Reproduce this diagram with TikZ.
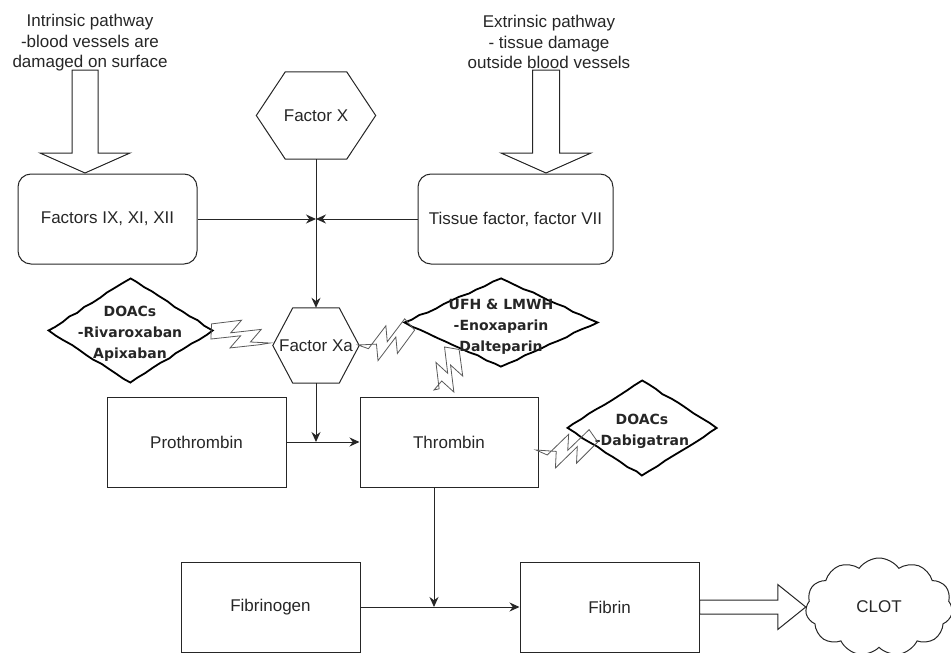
\documentclass[tikz,border=0pt]{standalone}
\usepackage{fontspec}
\setmainfont{Liberation Sans}
\newfontfamily\handfont{DejaVu Sans}
\usetikzlibrary{calc,arrows.meta,shapes.geometric,shapes.symbols,decorations.pathmorphing}
\newcommand\zbolt[2]{%
  \draw[bolt] ($(#1)!0!(#2)!1pt!270:(#2)$)
    -- ($(#1)!0.40!(#2)!15pt!90:(#2)$)
    -- ($(#1)!0.33!(#2)!1pt!270:(#2)$)
    -- ($(#1)!0.74!(#2)!15pt!90:(#2)$)
    -- ($(#1)!0.67!(#2)!1pt!270:(#2)$)
    -- ($(#1)!1!(#2)!7pt!90:(#2)$)
    -- ($(#1)!0.82!(#2)!0.5pt!90:(#2)$)
    -- ($(#1)!0.42!(#2)!15pt!270:(#2)$)
    -- ($(#1)!0.49!(#2)!0.5pt!90:(#2)$)
    -- ($(#1)!0.09!(#2)!15pt!270:(#2)$)
    -- cycle;}
\begin{document}
\begin{tikzpicture}[x=1pt,y=-1pt,
  txt/.style={font=\fontsize{17}{20.5}\selectfont, align=center, inner sep=0pt, text=black!85},
  box/.style={draw=black!85, line width=1pt, minimum width=179pt, minimum height=90pt, inner sep=0pt,
              font=\fontsize{17}{20.5}\selectfont, text=black!85},
  rbox/.style={box, rounded corners=13pt},
  hexlab/.style={inner sep=0pt, font=\fontsize{17}{20.5}\selectfont, text=black!85},
  hexline/.style={draw=black!85, line width=1pt},
  flow/.style={draw=black!85, line width=1pt, -{Stealth[length=10pt,width=9pt]}},
  hollow/.style={draw=black!85, line width=1pt, fill=white, line join=miter},
  drug/.style={shape=diamond, draw=black, line width=1.8pt, inner sep=0pt,
               decorate, decoration={random steps, segment length=9pt, amplitude=0.7pt}},
  drugtxt/.style={font=\handfont\bfseries\fontsize{14}{21}\selectfont, align=center, inner sep=0pt, text=black!85},
  bolt/.style={draw=black!65, line width=0.8pt, line join=miter}
]
\useasboundingbox (0,0) rectangle (951,653);

% pathway texts
\node[txt] (intr) at (90,43) {Intrinsic pathway\\-blood vessels are\\damaged on surface};
\node[txt] (extr) at (549,42) {Extrinsic pathway\\- tissue damage\\outside blood vessels};

% boxes
\node[rbox, minimum width=179pt] (ix) at (107.5,219) {Factors IX, XI, XII};
\node[rbox, minimum width=195pt] (tf) at (515.5,219) {Tissue factor, factor VII};

% hollow arrows from pathways
\coordinate (ia) at (85,173);
\coordinate (ea) at (546,173);
\draw[hollow] ($(ia)+(-13,-103)$) -- ($(ia)+(-13,-20)$) -- ($(ia)+(-45,-20)$) -- (ia)
  -- ($(ia)+(45,-20)$) -- ($(ia)+(13,-20)$) -- ($(ia)+(13,-103)$) -- cycle;
\draw[hollow] ($(ea)+(-13.5,-103)$) -- ($(ea)+(-13.5,-20)$) -- ($(ea)+(-45,-20)$) -- (ea)
  -- ($(ea)+(45,-20)$) -- ($(ea)+(13.5,-20)$) -- ($(ea)+(13.5,-103)$) -- cycle;

% Factor X hexagon
\node[hexlab, minimum width=119pt, minimum height=87pt] (fx) at (316,115.5) {Factor X};
\draw[hexline] (fx.west) -- ([xshift=29pt]fx.north west) -- ([xshift=-29pt]fx.north east)
  -- (fx.east) -- ([xshift=-29pt]fx.south east) -- ([xshift=29pt]fx.south west) -- cycle;

% Factor Xa hexagon
\node[hexlab, minimum width=86pt, minimum height=75pt] (fxa) at (316,345.5) {Factor Xa};
\draw[hexline] (fxa.west) -- ([xshift=20pt]fxa.north west) -- ([xshift=-20pt]fxa.north east)
  -- (fxa.east) -- ([xshift=-20pt]fxa.south east) -- ([xshift=20pt]fxa.south west) -- cycle;

% lower boxes
\node[box, minimum width=179pt] (pt) at (196.5,442) {Prothrombin};
\node[box, minimum width=178pt] (th) at (449,442) {Thrombin};
\node[box, minimum width=179pt] (fg) at (270.5,607) {Fibrinogen};
\node[box, minimum width=179pt] (fb) at (609.5,607) {Fibrin};

% cloud
\node[cloud, cloud puffs=11, cloud puff arc=110, aspect=1.5, draw=black!85, line width=1pt,
      minimum width=147pt, minimum height=98pt, inner sep=0pt,
      font=\fontsize{17}{20.5}\selectfont, text=black!85] (clot) at (879,607) {CLOT};

% connectors
\coordinate (j1) at (316,219);
\draw[flow] (fx.south) -- (fxa.north);
\draw[flow] (ix.east) -- (j1);
\draw[flow] (tf.west) -- (j1);
\coordinate (j2) at (316,442);
\draw[flow] (pt.east) -- (th.west);
\draw[flow] (fxa.south) -- (j2);
\coordinate (j3) at (434,607);
\draw[flow] (fg.east) -- (fb.west);
\draw[flow] (th.south -| j3) -- (j3);

% hollow arrow to clot
\draw[hollow] ($(fb.east)+(0,-7)$) -- ($(clot.west)+(-28,-7)$) -- ($(clot.west)+(-28,-22.5)$)
  -- (clot.west) -- ($(clot.west)+(-28,22.5)$) -- ($(clot.west)+(-28,7)$) -- ($(fb.east)+(0,7)$) -- cycle;

% drug diamonds
\node[drug, minimum width=165pt, minimum height=105pt] (d1) at (130.5,330.5) {};
\node[drugtxt] (d1t) at (130,334) {DOACs\\-Rivaroxaban\\Apixaban};
\node[drug, minimum width=194pt, minimum height=89pt] (d2) at (501,322.5) {};
\node[drugtxt] (d2t) at (501,327) {UFH \& LMWH\\-Enoxaparin\\Dalteparin};
\node[drug, minimum width=150pt, minimum height=96pt] (d3) at (642,428) {};
\node[drugtxt] (d3t) at (642,431) {DOACs\\-Dabigatran};

% lightning bolts
\coordinate (b1s) at (212,323); \coordinate (b1e) at (270,350);
\coordinate (b2s) at (415,331); \coordinate (b2e) at (358,352);
\coordinate (b3s) at (460,350); \coordinate (b3e) at (434,397);
\coordinate (b4s) at (598,443); \coordinate (b4e) at (536,457);
\zbolt{b1s}{b1e}
\zbolt{b2s}{b2e}
\zbolt{b3s}{b3e}
\zbolt{b4s}{b4e}
\end{tikzpicture}
\end{document}
